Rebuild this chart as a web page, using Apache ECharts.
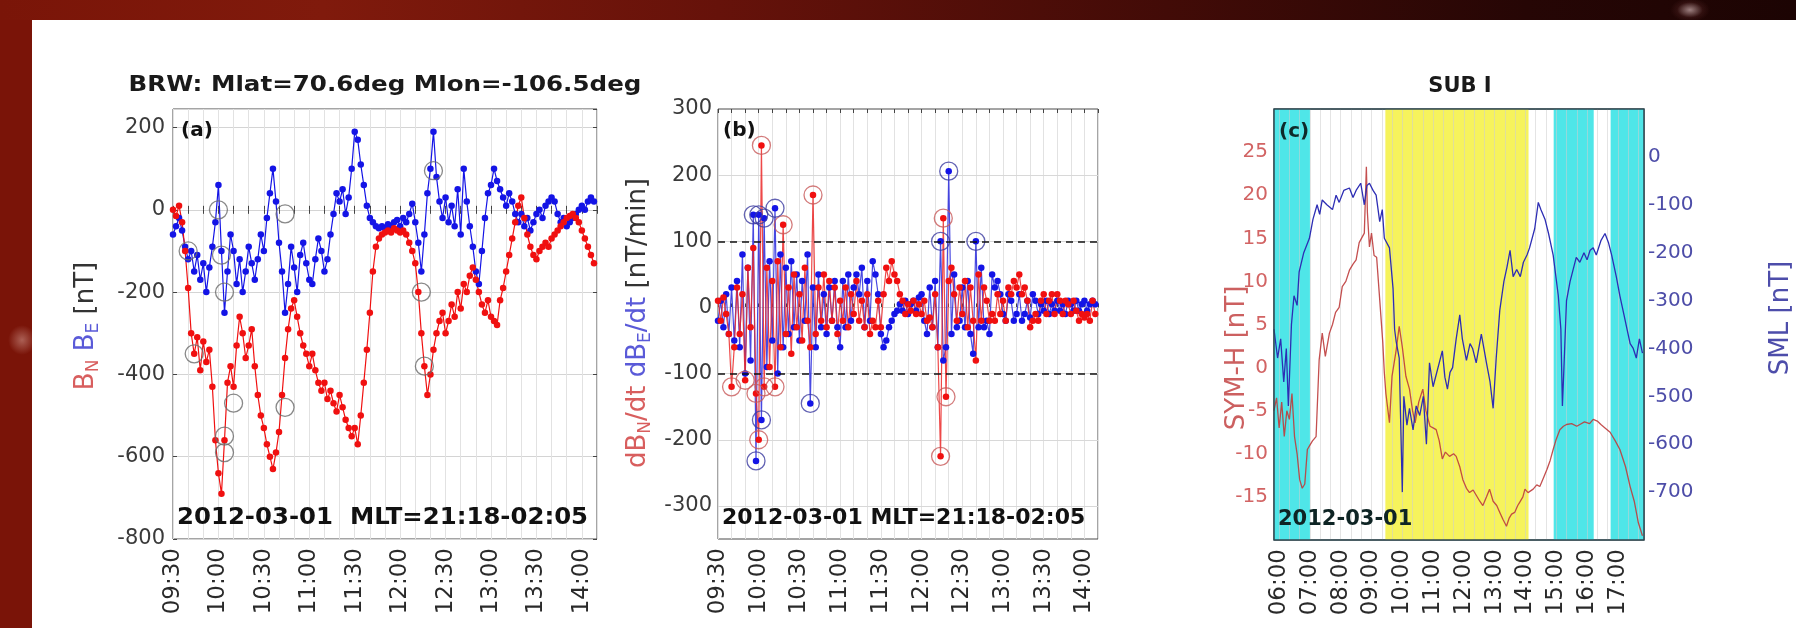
<!DOCTYPE html>
<html><head><meta charset="utf-8">
<script src="https://cdn.jsdelivr.net/npm/echarts@6/dist/echarts.min.js"></script>
<style>
html,body{margin:0;padding:0;width:1796px;height:628px;overflow:hidden;background:#7a1408;}
#top{position:absolute;left:0;top:0;width:1796px;height:20px;background:linear-gradient(90deg,#7a1508 0%,#801a0c 18%,#66120a 40%,#420b07 65%,#260605 85%,#1c0403 100%);}
#spot1{position:absolute;left:1670px;top:0;width:40px;height:22px;background:radial-gradient(ellipse at 50% 45%,rgba(200,170,170,0.75) 0%,rgba(120,60,60,0.2) 45%,rgba(0,0,0,0) 70%);}
#spot2{position:absolute;left:8px;top:325px;width:28px;height:30px;background:radial-gradient(ellipse at 50% 50%,rgba(220,170,160,0.5) 0%,rgba(0,0,0,0) 70%);}
#paper{position:absolute;left:32px;top:20px;width:1764px;height:608px;background:#fff;}
#chart{position:absolute;left:0;top:0;width:1796px;height:628px;}
</style></head>
<body>
<div id="top"></div><div id="spot1"></div><div id="spot2"></div>
<div id="paper"></div>
<div id="chart"></div>
<script>
// ---------- DATA ----------
// panels (a),(b): samples every 2 minutes starting 09:30 (minutes of day)
const T0 = 570, STEP = 2;
// (a) B_N [nT] (red)
const bnA = [
  0, -15, 10, -30, -100, -190, -300, -350, -310, -390,
  -320, -370, -340, -430, -560, -640, -690, -560, -420, -380,
  -430, -330, -260, -300, -360, -330, -290, -380, -450, -500,
  -530, -570, -600, -630, -590, -540, -450, -360, -290, -240,
  -220, -260, -300, -330, -350, -380, -350, -390, -420, -440,
  -420, -460, -440, -470, -490, -450, -480, -510, -530, -550,
  -530, -570, -500, -420, -340, -250, -150, -90, -70, -60,
  -55, -50, -55, -45, -50, -55, -50, -60, -80, -100,
  -130, -200, -300, -380, -450, -400, -340, -300, -270, -250,
  -300, -270, -230, -260, -200, -240, -180, -200, -160, -140,
  -170, -200, -230, -250, -220, -260, -270, -280, -220, -190,
  -150, -110, -70, -30, 10, 30, -20, -60, -90, -110,
  -120, -100, -90, -80, -90, -70, -60, -50, -40, -30,
  -20, -15, -10, -20, -30, -50, -70, -90, -110, -130
];
// (a) B_E [nT] (blue)
const beA = [
  -60, -40, -20, -50, -90, -120, -100, -150, -110, -170,
  -130, -200, -140, -90, -30, 60, -100, -250, -150, -60,
  -100, -180, -120, -200, -150, -90, -130, -170, -120, -60,
  -100, -20, 40, 100, 20, -80, -150, -250, -180, -90,
  -140, -200, -110, -80, -130, -170, -180, -120, -70, -100,
  -150, -120, -60, -10, 40, 20, 50, -10, 30, 100,
  190, 170, 110, 60, 10, -20, -30, -40, -45, -40,
  -45, -35, -40, -30, -25, -40, -20, -30, -10, 15,
  -30, -80, -150, -60, 40, 100, 190, 80, 20, -20,
  30, -30, 10, -40, 50, -60, 100, 20, -40, -90,
  -150, -180, -100, -20, 40, 60, 100, 70, 50, 30,
  10, 40, 20, -10, -30, -10, -40, -20, -50, -30,
  -10, 0, -20, 10, 20, 30, 20, -10, -30, -20,
  -40, -30, -20, -10, 0, 10, 0, 20, 30, 20
];
// (b) dB_N/dt [nT/min] (red)
const dbnB = [
  10, -20, 15, -10, -40, -120, -60, 30, -40, 20,
  -110, 60, -30, 90, -130, -200, 245, -120, 60, -90,
  40, -120, 70, -60, 125, -40, 30, -70, 50, -30,
  20, -50, 60, -20, -60, 170, -40, 30, -20, 50,
  -30, 40, -20, 30, -40, 10, -20, 30, -30, 20,
  -10, 40, -20, 10, -30, 20, -40, -20, -30, 10,
  -30, 20, 60, 40, 70, 50, 40, 20, 10, -10,
  5, -5, 10, -10, 5, -10, 10, -20, -15, -30,
  20, -60, -225, 135, -135, 40, 60, 20, -20, 30,
  -10, 40, -30, 30, -20, -80, 50, -20, 30, 10,
  -20, -10, -20, 20, -10, 10, -20, 30, 20, 40,
  30, 50, 20, 30, 10, -30, -20, -10, -20, 10,
  20, -10, 10, 20, -10, 20, 10, -10, 10, 5,
  -10, 10, -5, -20, -10, -15, -10, -20, 10, -10
];
// (b) dB_E/dt [nT/min] (blue)
const dbeB = [
  -20, 10, -30, 20, -40, 30, -50, 40, -60, 80,
  -100, 60, -80, 140, -232, 140, -170, 135, -90, 70,
  -50, 150, -100, 80, -60, 60, -40, 70, -30, 50,
  -50, 40, -20, 80, -145, 30, -60, 50, -30, 20,
  -40, 30, -20, 40, -30, -60, 40, -30, 50, -20,
  30, 50, 20, 60, -30, 40, -20, 70, 50, 20,
  -40, -60, -50, -30, -20, -10, -5, 5, -5, 10,
  -10, 5, 10, -5, 15, 20, -20, -40, 30, -30,
  40, -60, 100, -80, -60, 206, -40, 50, -30, -20,
  30, -30, 40, -40, -70, 100, -30, 60, -30, -20,
  -40, 50, 30, 40, 20, -10, -20, 20, 10, -20,
  -10, 20, -20, -10, 10, -15, 20, 10, -10, 5,
  -5, 10, -10, 5, -5, 10, -5, 5, -10, 10,
  5, -5, 10, -5, 5, 10, -5, 5, 10, 5
];
// open circles [minute, value]
const circA = [[580,-100],[584,-350],[600,0],[602,-110],[604,-200],[604,-550],[604,-590],[610,-470],[644,-10],[644,-480],[742,95],[734,-200],[736,-380]];
const circBred = [[580,-120],[590,-110],[598,-130],[600,-200],[602,245],[604,-120],[612,-120],[618,125],[640,170],[734,-225],[736,135],[738,-135]];
const circBblue = [[596,140],[598,-232],[600,140],[602,-170],[604,135],[612,150],[638,-145],[734,100],[740,206],[760,100]];
// (c) SYM-H [nT]
const symhT = [350,355,360,365,370,375,380,385,390,395,400,405,410,415,420,425,432,438,444,450,458,464,470,477,483,490,497,504,510,516,526,530,532,536,540,545,550,555,562,565,568,575,580,588,594,600,607,614,620,625,632,640,646,654,660,666,672,678,684,692,700,705,712,718,725,731,738,745,751,757,764,770,777,784,790,796,803,808,813,819,825,829,835,839,845,855,862,868,875,882,888,894,900,907,914,920,930,940,946,955,965,972,980,987,995,1005,1015,1024,1035,1044,1052,1060,1068];
const symhV = [-5,-3.5,-7,-4,-8,-5,-6,-3,-8,-10,-13,-14,-13.5,-9.5,-9,-8.5,-8,0.9,4,1.3,4,5,6.4,7,9.4,10,11.3,12,12.5,14.5,15.6,23.3,18,14,15.6,13,12.8,8.7,2.9,-0.6,-3,-6.4,-1,2,4.8,2.4,-1,-2.5,-5,-6.4,-4,-2.5,-5,-6.8,-7,-7.2,-8.5,-10.6,-9.8,-10.3,-10,-10.3,-11.5,-13,-14,-14.5,-14.2,-14.9,-15.5,-16,-15,-14.1,-15.5,-16,-16.8,-17.6,-18.4,-17.5,-17,-16.8,-16,-15.6,-15,-14.1,-14.5,-14.1,-13.6,-13.8,-12.8,-11.8,-10.8,-9.5,-8.3,-7.2,-6.8,-6.6,-6.5,-6.8,-6.6,-6.3,-6.5,-6,-6.2,-6.6,-7,-7.5,-8.5,-9.5,-11.5,-13.8,-15.5,-18,-19.5];
// (c) SML [nT]
const smlT = [350,357,363,369,374,378,384,389,395,399,408,419,426,434,439,444,453,464,471,477,486,497,504,510,519,526,531,536,543,549,556,561,565,575,582,585,588,594,600,603,609,614,621,627,634,641,647,653,660,666,672,678,683,688,693,698,705,712,717,725,732,737,744,754,759,764,771,777,783,790,798,804,810,816,823,830,836,843,848,858,865,870,878,885,894,904,909,912,915,920,927,933,939,946,954,960,966,972,978,987,995,1002,1008,1017,1024,1032,1038,1044,1050,1056,1062,1068];
const smlV = [-360,-420,-380,-470,-400,-520,-350,-290,-310,-240,-200,-170,-130,-100,-120,-90,-100,-110,-80,-95,-70,-65,-85,-70,-55,-100,-60,-55,-70,-80,-135,-110,-170,-190,-275,-360,-385,-420,-700,-500,-560,-525,-570,-520,-540,-500,-600,-430,-480,-455,-430,-405,-460,-485,-450,-440,-380,-330,-380,-425,-390,-400,-430,-370,-400,-430,-470,-525,-420,-320,-260,-230,-195,-250,-235,-250,-220,-205,-190,-150,-95,-110,-130,-160,-205,-290,-360,-520,-440,-300,-260,-235,-210,-220,-200,-215,-195,-190,-205,-175,-160,-180,-205,-250,-290,-330,-360,-390,-400,-420,-380,-410];
// (c) background bands [start minute, end minute, kind]
const bandsC = [[350,420,'c'],[567,846,'y'],[895,973,'c'],[1006,1071,'c']];

// ---------- STYLE / BUILD ----------
const FONT = 'DejaVu Sans';
const RED = '#f01010', BLUE = '#1414e6';
const CYAN = '#4fe6e8', YELLOW = '#f6f35c';
function hhmm(m){const h=Math.floor(m/60),mm=Math.round(m%60);return String(h).padStart(2,'0')+':'+String(mm).padStart(2,'0');}
const seq = arr => arr.map((v,i)=>[T0+i*STEP, v]);
const zip = (t,v) => t.map((x,i)=>[x, v[i]]);

const chart = echarts.init(document.getElementById('chart'), null, {renderer:'canvas'});

const grids = [
  {left:173, top:109, width:424, height:430},
  {left:718, top:109, width:380, height:430},
  {left:1274, top:109, width:370, height:431}
].map(g => Object.assign(g, {show:true, borderColor:'#4a4a4a', borderWidth:1, backgroundColor:'rgba(0,0,0,0)', containLabel:false, outerBoundsMode:'none'}));

function xBottom(gi, min, max, labelEvery, split){
  return {type:'value', gridIndex:gi, position:'bottom', min:min, max:max, interval:10,
    axisLine:{show:false},
    axisTick:{show:split, inside:true, length:4, lineStyle:{color:'#444'}},
    axisLabel:{show:true, rotate:90, margin:9, fontFamily:FONT, fontSize:23, color:'#2a2a2a',
      formatter: v => (Math.round(v) % labelEvery === 0) ? hhmm(v) : ''},
    splitLine:{show:split, lineStyle:{color:'#e2e2e2', width:1}}};
}
function xTop(gi, min, max){
  return {type:'value', gridIndex:gi, position:'top', min:min, max:max, interval:10,
    axisLine:{show:false}, axisLabel:{show:false},
    axisTick:{show:true, inside:true, length:4, lineStyle:{color:'#444'}}, splitLine:{show:false}};
}
const xAxes = [
  xBottom(0, 570, 850, 30, true), xTop(0, 570, 850),
  xBottom(1, 570, 850, 30, true), xTop(1, 570, 850),
  xBottom(2, 350, 1071, 60, false)
];
const yAxes = [
  {type:'value', gridIndex:0, position:'left', min:-800, max:245, interval:200,
    axisLine:{show:false}, axisTick:{show:true, inside:true, length:4, lineStyle:{color:'#444'}},
    axisLabel:{margin:8, fontFamily:FONT, fontSize:21, color:'#3a3a3a', showMaxLabel:false},
    splitLine:{show:true, lineStyle:{color:'#d4d4d4'}}},
  {type:'value', gridIndex:0, position:'right', min:-800, max:245, interval:200,
    axisLine:{show:false}, axisTick:{show:true, inside:true, length:4, lineStyle:{color:'#444'}},
    axisLabel:{show:false}, splitLine:{show:false}},
  {type:'value', gridIndex:1, position:'left', min:-350, max:300, interval:50,
    axisLine:{show:false}, axisTick:{show:false},
    axisLabel:{margin:6, fontFamily:FONT, fontSize:21, color:'#3a3a3a',
      formatter: v => (Math.round(v) % 100 === 0) ? String(v) : ''},
    splitLine:{show:false}},
  {type:'value', gridIndex:2, position:'left', min:-20, max:30, interval:5,
    axisLine:{show:false}, axisTick:{show:true, inside:true, length:4, lineStyle:{color:'#555'}},
    axisLabel:{margin:6, fontFamily:FONT, fontSize:20, color:'#d26464', showMinLabel:false, showMaxLabel:false},
    splitLine:{show:false}},
  {type:'value', gridIndex:2, position:'right', min:-800, max:100, interval:100,
    axisLine:{show:false}, axisTick:{show:true, inside:true, length:4, lineStyle:{color:'#555'}},
    axisLabel:{margin:4, fontFamily:FONT, fontSize:20, color:'#4d4da8', showMinLabel:false, showMaxLabel:false},
    splitLine:{show:false}}
];

const NOLBL = {show:false};
function dotLine(name, xi, yi, data, color, lineColor){
  return {name, type:'line', xAxisIndex:xi, yAxisIndex:yi, data, symbol:'circle', symbolSize:6.5,
    showSymbol:true, itemStyle:{color:color}, lineStyle:{color:lineColor, width:1.2}, z:3, silent:true};
}
function circles(xi, yi, data, color){
  return {type:'scatter', xAxisIndex:xi, yAxisIndex:yi, data, symbol:'circle', symbolSize:18,
    itemStyle:{color:'rgba(0,0,0,0)', borderColor:color, borderWidth:1.3}, z:4, silent:true};
}

const hGridB = [-300,-200,-100,0,100,200].map(v => ({yAxis:v}));
const vGridC = [];
for (let m = 360; m <= 1060; m += 20) vGridC.push({xAxis:m});

const series = [
  // (a)
  dotLine('BE', 0, 0, seq(beA), BLUE, BLUE),
  dotLine('BN', 0, 0, seq(bnA), RED, RED),
  circles(0, 0, circA, '#6a6a6a'),
  // (b)
  Object.assign(dotLine('dBE', 2, 2, seq(dbeB), BLUE, 'rgba(40,40,220,0.85)'), {
    markLine:{silent:true, symbol:['none','none'], label:NOLBL, animation:false, z:1.5,
      lineStyle:{color:'#d8d8d8', width:1, type:'solid'}, data:hGridB}
  }),
  Object.assign(dotLine('dBN', 2, 2, seq(dbnB), RED, 'rgba(235,40,40,0.85)'), {
    markLine:{silent:true, symbol:['none','none'], label:NOLBL, animation:false,
      lineStyle:{color:'#111', width:1.6, type:[7,5]}, data:[{yAxis:100},{yAxis:-100}]}
  }),
  circles(2, 2, circBred, '#c85a5a'),
  circles(2, 2, circBblue, '#3c3ca0'),
  // (c)
  {name:'SYM-H', type:'line', xAxisIndex:4, yAxisIndex:3, data:zip(symhT, symhV), showSymbol:false,
    lineStyle:{color:'rgba(190,60,60,0.9)', width:1.3}, z:3, silent:true,
    markArea:{silent:true, z:1, animation:false, label:NOLBL,
      data: bandsC.map(b => [{xAxis:b[0], itemStyle:{color: b[2]==='c' ? CYAN : YELLOW}}, {xAxis:b[1]}])}
  },
  {name:'SML', type:'line', xAxisIndex:4, yAxisIndex:4, data:zip(smlT, smlV), showSymbol:false,
    lineStyle:{color:'#2d2db4', width:1.3}, z:3, silent:true,
    markLine:{silent:true, symbol:['none','none'], label:NOLBL, animation:false, z:1.5,
      lineStyle:{color:'rgba(205,205,205,0.55)', width:1, type:'solid'}, data:vGridC}
  }
];

function txt(x, y, text, opts){
  return Object.assign({type:'text', x:x, y:y, z:50, silent:true,
    style:Object.assign({text:text, fill:'#111', fontFamily:FONT, fontSize:20, textAlign:'left', textVerticalAlign:'middle'}, opts.style||{})},
    opts.el||{});
}
const richBase = {fontFamily:FONT, fontSize:26, lineHeight:32};
const sub = c => ({fill:c, fontFamily:FONT, fontSize:17, verticalAlign:'bottom'});
const graphics = [
  txt(385, 86, 'BRW: Mlat=70.6deg Mlon=-106.5deg', {style:{fontWeight:'bold', fontSize:21, textAlign:'center', fill:'#1a1a1a'}, el:{scaleX:1.17}}),
  txt(1460, 87, 'SUB I', {style:{fontWeight:'bold', fontSize:21, textAlign:'center', fill:'#1a1a1a'}}),
  txt(181, 131, '(a)', {style:{fontWeight:'bold', fontSize:20}}),
  txt(723, 131, '(b)', {style:{fontWeight:'bold', fontSize:20}}),
  txt(1279, 132, '(c)', {style:{fontWeight:'bold', fontSize:20, fill:'#0e2a2a'}}),
  txt(177, 518, '2012-03-01  MLT=21:18-02:05', {style:{fontWeight:'bold', fontSize:23}, el:{scaleX:1.06}}),
  txt(722, 518, '2012-03-01 MLT=21:18-02:05', {style:{fontWeight:'bold', fontSize:22}}),
  txt(1278, 520, '2012-03-01', {style:{fontWeight:'bold', fontSize:21, fill:'#0e2424'}}),
  // axis names
  txt(86, 326, '{r|B}{rs|N} {b|B}{bs|E} {k|[nT]}', {el:{rotation:Math.PI/2}, style:{textAlign:'center', fontSize:26,
    rich:{r:Object.assign({fill:'#d85e5e'}, richBase), rs:sub('#d85e5e'), b:Object.assign({fill:'#5a5ad8'}, richBase), bs:sub('#5a5ad8'), k:Object.assign({fill:'#333'}, richBase)}}}),
  txt(638, 323, '{r|dB}{rs|N}{r|/dt} {b|dB}{bs|E}{b|/dt} {k|[nT/min]}', {el:{rotation:Math.PI/2}, style:{textAlign:'center', fontSize:26,
    rich:{r:Object.assign({fill:'#d85e5e'}, richBase), rs:sub('#d85e5e'), b:Object.assign({fill:'#5a5ad8'}, richBase), bs:sub('#5a5ad8'), k:Object.assign({fill:'#333'}, richBase)}}}),
  txt(1237, 358, 'SYM-H [nT]', {el:{rotation:Math.PI/2}, style:{textAlign:'center', fontSize:26, fill:'#cc6060'}}),
  txt(1781, 318, 'SML [nT]', {el:{rotation:Math.PI/2}, style:{textAlign:'center', fontSize:26, fill:'#4d4daa'}}),
  // frame of panel (c) above the colour bands
  {type:'rect', z:40, silent:true, shape:{x:1274, y:109, width:370, height:431}, style:{fill:null, stroke:'#2e4750', lineWidth:1.5}}
];

chart.setOption({
  animation:false,
  backgroundColor:'rgba(0,0,0,0)',
  grid: grids,
  xAxis: xAxes,
  yAxis: yAxes,
  series: series,
  graphic: {elements: graphics}
});
</script>
</body></html>
